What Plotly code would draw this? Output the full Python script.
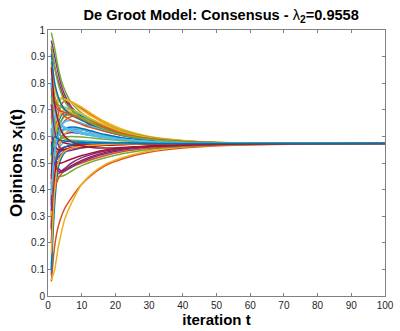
import plotly.graph_objects as go

# iteration points at which opinions are read
T = [1, 2, 3, 4, 5, 7, 10, 13, 17, 22, 30, 40, 55, 75, 100]

# opinion trajectories x_i(t), one list per agent (values at T)
agent_01 = [0.08, 0.42, 0.50, 0.53, 0.545, 0.555, 0.562, 0.566, 0.569, 0.571, 0.572, 0.573, 0.573, 0.573, 0.573]
agent_02 = [0.055, 0.19, 0.26, 0.30, 0.33, 0.37, 0.42, 0.455, 0.49, 0.515, 0.54, 0.556, 0.567, 0.571, 0.573]
agent_03 = [0.06, 0.10, 0.18, 0.24, 0.29, 0.35, 0.42, 0.46, 0.495, 0.52, 0.545, 0.56, 0.569, 0.572, 0.573]
agent_04 = [0.96, 0.90, 0.84, 0.79, 0.755, 0.71, 0.675, 0.652, 0.628, 0.607, 0.59, 0.58, 0.575, 0.573, 0.573]
agent_05 = [0.99, 0.93, 0.86, 0.808, 0.773, 0.725, 0.688, 0.662, 0.636, 0.613, 0.593, 0.582, 0.575, 0.573, 0.573]
agent_06 = [0.12, 0.47, 0.55, 0.57, 0.58, 0.585, 0.584, 0.582, 0.579, 0.577, 0.575, 0.574, 0.573, 0.573, 0.573]
agent_07 = [0.93, 0.86, 0.81, 0.77, 0.74, 0.70, 0.665, 0.64, 0.62, 0.603, 0.588, 0.579, 0.575, 0.573, 0.573]
agent_08 = [0.80, 0.60, 0.65, 0.68, 0.69, 0.685, 0.665, 0.645, 0.625, 0.605, 0.588, 0.579, 0.575, 0.573, 0.573]
agent_09 = [0.72, 0.62, 0.68, 0.72, 0.735, 0.73, 0.705, 0.68, 0.65, 0.623, 0.598, 0.584, 0.576, 0.574, 0.573]
agent_10 = [0.65, 0.70, 0.73, 0.74, 0.74, 0.73, 0.71, 0.685, 0.655, 0.627, 0.60, 0.585, 0.576, 0.574, 0.573]
agent_11 = [0.50, 0.47, 0.46, 0.47, 0.48, 0.50, 0.52, 0.533, 0.545, 0.555, 0.563, 0.568, 0.571, 0.572, 0.573]
agent_12 = [0.30, 0.47, 0.45, 0.45, 0.455, 0.47, 0.49, 0.505, 0.52, 0.535, 0.551, 0.562, 0.569, 0.572, 0.573]
agent_13 = [0.45, 0.66, 0.70, 0.71, 0.71, 0.70, 0.68, 0.66, 0.64, 0.615, 0.594, 0.582, 0.575, 0.573, 0.573]
agent_14 = [0.25, 0.50, 0.48, 0.47, 0.475, 0.49, 0.51, 0.525, 0.54, 0.552, 0.562, 0.568, 0.571, 0.572, 0.573]
agent_15 = [0.63, 0.55, 0.62, 0.66, 0.68, 0.69, 0.675, 0.655, 0.632, 0.61, 0.591, 0.58, 0.575, 0.573, 0.573]
agent_16 = [0.45, 0.50, 0.55, 0.59, 0.61, 0.625, 0.625, 0.615, 0.603, 0.592, 0.582, 0.577, 0.574, 0.573, 0.573]
agent_17 = [0.52, 0.72, 0.74, 0.745, 0.74, 0.725, 0.70, 0.675, 0.648, 0.622, 0.597, 0.584, 0.576, 0.574, 0.573]
agent_18 = [0.42, 0.56, 0.58, 0.60, 0.61, 0.615, 0.61, 0.604, 0.596, 0.588, 0.58, 0.576, 0.574, 0.573, 0.573]
agent_19 = [0.88, 0.75, 0.72, 0.71, 0.70, 0.685, 0.665, 0.648, 0.628, 0.608, 0.59, 0.58, 0.575, 0.573, 0.573]
agent_20 = [0.70, 0.58, 0.60, 0.615, 0.625, 0.63, 0.625, 0.615, 0.603, 0.592, 0.582, 0.577, 0.574, 0.573, 0.573]
agent_21 = [0.34, 0.60, 0.59, 0.58, 0.575, 0.57, 0.568, 0.568, 0.569, 0.57, 0.571, 0.572, 0.573, 0.573, 0.573]
agent_22 = [0.10, 0.35, 0.48, 0.52, 0.54, 0.555, 0.562, 0.566, 0.569, 0.571, 0.572, 0.573, 0.573, 0.573, 0.573]
agent_23 = [0.36, 0.56, 0.60, 0.64, 0.66, 0.675, 0.67, 0.655, 0.635, 0.613, 0.593, 0.581, 0.575, 0.573, 0.573]
agent_24 = [0.85, 0.78, 0.74, 0.72, 0.705, 0.69, 0.67, 0.652, 0.631, 0.61, 0.591, 0.58, 0.575, 0.573, 0.573]
agent_25 = [0.62, 0.55, 0.54, 0.545, 0.55, 0.557, 0.563, 0.567, 0.57, 0.572, 0.573, 0.573, 0.573, 0.573, 0.573]
agent_26 = [0.67, 0.60, 0.64, 0.66, 0.675, 0.68, 0.672, 0.66, 0.642, 0.62, 0.597, 0.583, 0.576, 0.574, 0.573]
agent_27 = [0.26, 0.52, 0.60, 0.64, 0.655, 0.66, 0.65, 0.637, 0.622, 0.605, 0.589, 0.579, 0.575, 0.573, 0.573]
agent_28 = [0.58, 0.52, 0.50, 0.50, 0.505, 0.515, 0.528, 0.538, 0.549, 0.557, 0.564, 0.569, 0.571, 0.572, 0.573]
agent_29 = [0.54, 0.56, 0.60, 0.62, 0.63, 0.635, 0.63, 0.62, 0.607, 0.595, 0.584, 0.578, 0.575, 0.573, 0.573]
agent_30 = [0.26, 0.40, 0.44, 0.46, 0.47, 0.485, 0.50, 0.513, 0.528, 0.542, 0.555, 0.564, 0.569, 0.572, 0.573]
agent_31 = [0.30, 0.48, 0.55, 0.59, 0.61, 0.62, 0.615, 0.607, 0.597, 0.588, 0.58, 0.576, 0.574, 0.573, 0.573]
agent_32 = [0.47, 0.50, 0.52, 0.535, 0.545, 0.556, 0.563, 0.567, 0.57, 0.572, 0.573, 0.573, 0.573, 0.573, 0.573]
agent_33 = [0.75, 0.66, 0.62, 0.60, 0.59, 0.585, 0.58, 0.578, 0.576, 0.575, 0.574, 0.573, 0.573, 0.573, 0.573]
agent_34 = [0.60, 0.68, 0.66, 0.645, 0.635, 0.625, 0.615, 0.606, 0.597, 0.589, 0.581, 0.576, 0.574, 0.573, 0.573]
agent_35 = [0.20, 0.45, 0.54, 0.555, 0.56, 0.565, 0.567, 0.569, 0.57, 0.571, 0.572, 0.573, 0.573, 0.573, 0.573]
agent_36 = [0.57, 0.50, 0.53, 0.55, 0.56, 0.57, 0.574, 0.575, 0.575, 0.574, 0.574, 0.573, 0.573, 0.573, 0.573]
agent_37 = [0.67, 0.73, 0.71, 0.69, 0.675, 0.66, 0.645, 0.632, 0.618, 0.604, 0.589, 0.579, 0.575, 0.573, 0.573]
agent_38 = [0.40, 0.60, 0.66, 0.69, 0.70, 0.70, 0.685, 0.665, 0.642, 0.618, 0.595, 0.582, 0.575, 0.573, 0.573]
agent_39 = [0.72, 0.62, 0.57, 0.55, 0.545, 0.548, 0.556, 0.562, 0.567, 0.57, 0.572, 0.573, 0.573, 0.573, 0.573]
agent_40 = [0.50, 0.58, 0.59, 0.595, 0.598, 0.60, 0.598, 0.594, 0.589, 0.584, 0.579, 0.576, 0.574, 0.573, 0.573]
agent_41 = [0.82, 0.70, 0.66, 0.64, 0.63, 0.62, 0.61, 0.602, 0.594, 0.587, 0.58, 0.576, 0.574, 0.573, 0.573]
agent_42 = [0.44, 0.56, 0.55, 0.55, 0.552, 0.556, 0.56, 0.564, 0.567, 0.57, 0.572, 0.573, 0.573, 0.573, 0.573]
agent_43 = [0.91, 0.80, 0.75, 0.72, 0.70, 0.68, 0.66, 0.645, 0.627, 0.607, 0.59, 0.58, 0.575, 0.573, 0.573]
agent_44 = [0.78, 0.72, 0.70, 0.695, 0.69, 0.68, 0.665, 0.65, 0.632, 0.611, 0.592, 0.581, 0.575, 0.573, 0.573]
agent_45 = [0.16, 0.40, 0.50, 0.53, 0.545, 0.556, 0.563, 0.567, 0.57, 0.572, 0.573, 0.573, 0.573, 0.573, 0.573]
agent_46 = [0.32, 0.50, 0.47, 0.465, 0.47, 0.485, 0.505, 0.52, 0.535, 0.548, 0.56, 0.567, 0.571, 0.572, 0.573]
agent_47 = [0.94, 0.86, 0.80, 0.76, 0.73, 0.70, 0.67, 0.648, 0.626, 0.606, 0.589, 0.579, 0.575, 0.573, 0.573]
agent_48 = [0.38, 0.55, 0.60, 0.62, 0.625, 0.625, 0.617, 0.608, 0.598, 0.589, 0.581, 0.576, 0.574, 0.573, 0.573]
agent_49 = [0.86, 0.72, 0.66, 0.62, 0.60, 0.58, 0.565, 0.558, 0.556, 0.558, 0.562, 0.567, 0.571, 0.572, 0.573]
agent_50 = [0.53, 0.60, 0.59, 0.585, 0.583, 0.58, 0.578, 0.577, 0.576, 0.575, 0.574, 0.573, 0.573, 0.573, 0.573]

agents = [agent_01, agent_02, agent_03, agent_04, agent_05, agent_06, agent_07, agent_08, agent_09, agent_10,
          agent_11, agent_12, agent_13, agent_14, agent_15, agent_16, agent_17, agent_18, agent_19, agent_20,
          agent_21, agent_22, agent_23, agent_24, agent_25, agent_26, agent_27, agent_28, agent_29, agent_30,
          agent_31, agent_32, agent_33, agent_34, agent_35, agent_36, agent_37, agent_38, agent_39, agent_40,
          agent_41, agent_42, agent_43, agent_44, agent_45, agent_46, agent_47, agent_48, agent_49, agent_50]

x_ticks = [0, 10, 20, 30, 40, 50, 60, 70, 80, 90, 100]
y_ticks = [0, 0.1, 0.2, 0.3, 0.4, 0.5, 0.6, 0.7, 0.8, 0.9, 1]
y_tick_labels = ["0", "0.1", "0.2", "0.3", "0.4", "0.5", "0.6", "0.7", "0.8", "0.9", "1"]

palette = ["#0072BD", "#D95319", "#EDB120", "#7E2F8E", "#77AC30", "#4DBEEE", "#A2142F"]

fig = go.Figure()
for i, vals in enumerate(agents):
    fig.add_trace(go.Scatter(
        x=T, y=vals, mode="lines",
        line=dict(color=palette[i % 7], width=1.5, shape="spline", smoothing=0.8),
        showlegend=False, hoverinfo="skip"))

axis_font = dict(family="Liberation Sans, Arial, Helvetica, sans-serif", size=10, color="#262626")
fig.update_layout(
    width=400, height=331,
    margin=dict(l=48, r=6, t=30, b=29),
    paper_bgcolor="white", plot_bgcolor="white",
    font=dict(family="Liberation Sans, Arial, Helvetica, sans-serif", color="#000000"),
    title=dict(text="<b>De Groot Model: Consensus - </b>λ<b><sub>2</sub>=0.9558</b>",
               x=0.553, xanchor="center", y=0.955, yanchor="middle",
               font=dict(size=14.6, color="#000000")),
    showlegend=False,
)
fig.update_xaxes(
    range=[0, 100], tickmode="array", tickvals=x_ticks,
    ticks="inside", ticklen=3, tickcolor="#808080", tickwidth=1,
    showline=True, linecolor="#808080", linewidth=1, mirror="ticks",
    showgrid=False, zeroline=False, tickfont=axis_font, ticklabeloverflow="allow",
    title=dict(text="<b>iteration t</b>", font=dict(size=15, color="#000000"), standoff=3),
)
fig.update_yaxes(
    range=[0, 1], tickmode="array", tickvals=y_ticks, ticktext=y_tick_labels,
    ticks="inside", ticklen=3, tickcolor="#808080", tickwidth=1,
    showline=True, linecolor="#808080", linewidth=1, mirror="ticks",
    showgrid=False, zeroline=False, tickfont=axis_font, ticklabeloverflow="allow",
    title=dict(text="<b>Opinions x<sub>i</sub>(t)</b>", font=dict(size=17, color="#000000"), standoff=4),
)

fig.write_html("out.html")
